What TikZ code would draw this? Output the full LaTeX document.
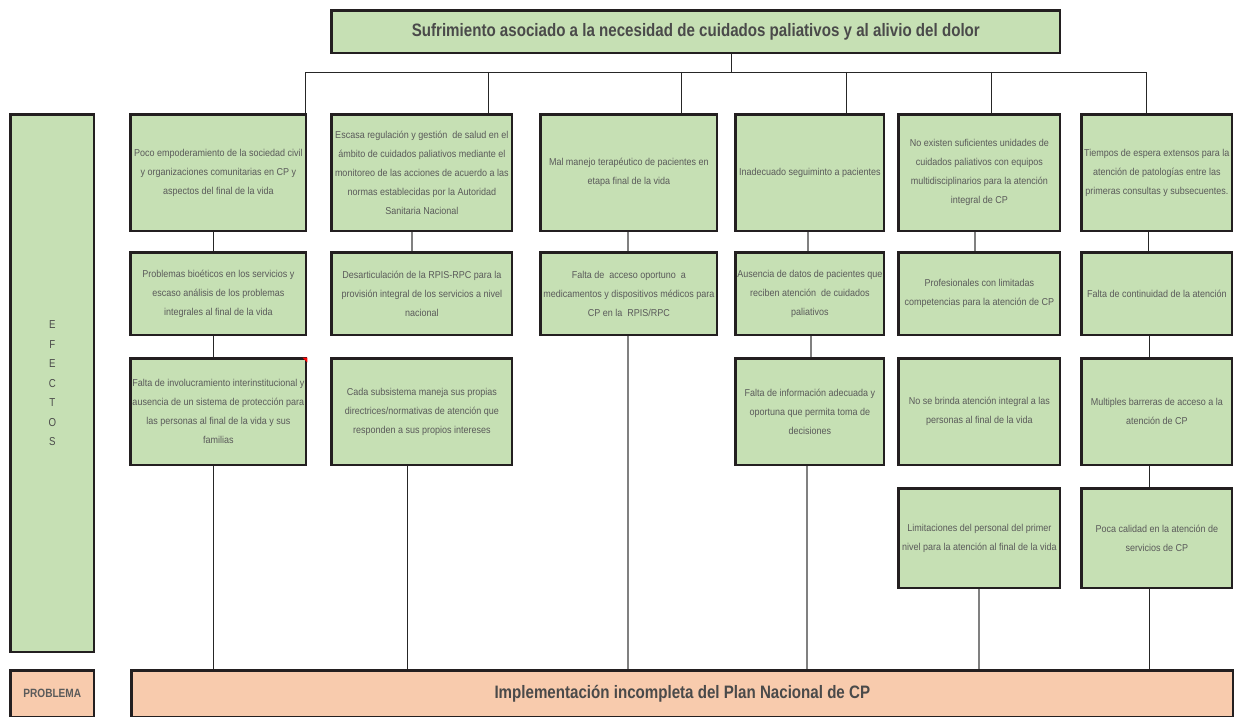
\documentclass[tikz,border=0pt]{standalone}
\usepackage{fontspec}
\setmainfont{Liberation Sans}
\newfontfamily\bodyfont{Liberation Sans}[FakeStretch=0.9]
\newfontfamily\headfont{Liberation Sans}[FakeStretch=0.84]
\definecolor{boxgreen}{HTML}{C6E0B4}
\definecolor{boxpeach}{HTML}{F8CBAD}
\definecolor{txtgray}{HTML}{5A5A5A}
\definecolor{headgray}{HTML}{4A4A4A}
\definecolor{edgecol}{HTML}{231F20}
\newcommand\cell[6]{\node[box, minimum width={#4-#2-2.6}, minimum height={#5-#3-2.6}] (#1) at (#2+1.3,#3+1.3) {#6};}
\begin{document}
\begin{tikzpicture}[x=1pt,y=-1pt,
  box/.style={draw=edgecol,line width=2.6pt,fill=boxgreen,align=center,text=txtgray,
    font=\bodyfont\fontsize{10}{19}\selectfont,inner sep=1pt,anchor=north west},
  headtext/.style={font=\headfont\bfseries\fontsize{18}{20}\selectfont,text=headgray},
  conn/.style={draw=black!85,line width=0.8pt},
  gconn/.style={draw=black!50,line width=1.1pt}]
\useasboundingbox (0,0) rectangle (1237,717);

% title
\cell{top}{329}{8}{1060}{53}{}
\node[headtext] (toptext) at (top.center) {Sufrimiento asociado a la necesidad de cuidados paliativos y al alivio del dolor};

% side labels
\node[box, minimum width=83.4, minimum height=537.4, font=\headfont\fontsize{11.5}{19.5}\selectfont, text=headgray] (ef) at (9.3,113.3) {E\\F\\E\\C\\T\\O\\S};
\node[box, fill=boxpeach, minimum width=83.4, minimum height=46.4, font=\headfont\bfseries\fontsize{12}{13}\selectfont] (pl) at (9.3,669.3) {PROBLEMA};
\node[box, fill=boxpeach, minimum width=1101.4, minimum height=46.4] (prob) at (130.3,669.3) {};
\node[headtext] (probtext) at (prob.center) {Implementación incompleta del Plan Nacional de CP};

% row 1
\cell{c1r1}{128}{112}{306}{231}{Poco empoderamiento de la sociedad civil\\y organizaciones comunitarias en CP y\\aspectos del final de la vida}
\cell{c2r1}{329}{112}{512}{231}{Escasa regulación y gestión\ \ de salud en el\\ámbito de cuidados paliativos mediante el\\monitoreo de las acciones de acuerdo a las\\normas establecidas por la Autoridad\\Sanitaria Nacional}
\cell{c3r1}{538}{112}{717}{231}{Mal manejo terapéutico de pacientes en\\etapa final de la vida}
\cell{c4r1}{733}{112}{884}{231}{Inadecuado seguiminto a pacientes}
\cell{c5r1}{896}{112}{1060}{231}{No existen suficientes unidades de\\cuidados paliativos con equipos\\multidisciplinarios para la atención\\integral de CP}
\cell{c6r1}{1079}{112}{1232}{231}{Tiempos de espera extensos para la\\atención de patologías entre las\\primeras consultas y subsecuentes.}

% row 2
\cell{c1r2}{128}{250}{306}{335}{Problemas bioéticos en los servicios y\\escaso análisis de los problemas\\integrales al final de la vida}
\cell{c2r2}{329}{250}{512}{335}{Desarticulación de la RPIS-RPC para la\\provisión integral de los servicios a nivel\\nacional}
\cell{c3r2}{538}{250}{717}{335}{Falta de\ \ acceso oportuno\ \ a\\medicamentos y dispositivos médicos para\\CP en la\ \ RPIS/RPC}
\cell{c4r2}{733}{250}{884}{335}{Ausencia de datos de pacientes que\\reciben atención\ \ de cuidados\\paliativos}
\cell{c5r2}{896}{250}{1060}{335}{Profesionales con limitadas\\competencias para la atención de CP}
\cell{c6r2}{1079}{250}{1232}{335}{Falta de continuidad de la atención}

% row 3
\cell{c1r3}{128}{356}{306}{465}{Falta de involucramiento interinstitucional y\\ausencia de un sistema de protección para\\las personas al final de la vida y sus\\familias}
\cell{c2r3}{329}{356}{512}{465}{Cada subsistema maneja sus propias\\directrices/normativas de atención que\\responden a sus propios intereses}
\cell{c4r3}{733}{356}{884}{465}{Falta de información adecuada y\\oportuna que permita toma de\\decisiones}
\cell{c5r3}{896}{356}{1060}{465}{No se brinda atención integral a las\\personas al final de la vida}
\cell{c6r3}{1079}{356}{1232}{465}{Multiples barreras de acceso a la\\atención de CP}

% row 4
\cell{c5r4}{896}{486}{1060}{588}{Limitaciones del personal del primer\\nivel para la atención al final de la vida}
\cell{c6r4}{1079}{486}{1232}{588}{Poca calidad en la atención de\\servicios de CP}

% comment marker
\fill[red] ([xshift=-5,yshift=-0.2]c1r3.north east) -- ([yshift=-0.2]c1r3.north east) -- ([yshift=-5]c1r3.north east) -- cycle;

% top tree
\coordinate (hub) at (731,72);
\coordinate (busL) at (305,72);
\coordinate (busR) at (1146,72);
\draw[conn] (hub |- top.south) -- (hub);
\draw[conn] (busL |- c1r1.north) -- (busL) -- (busR) -- (busR |- c6r1.north);
\foreach \n/\x in {c2r1/488, c3r1/681, c4r1/846, c5r1/991} {
  \coordinate (drop) at (\x,72);
  \draw[conn] (drop) -- (drop |- \n.north);
}

% column connectors
\foreach \x/\a/\b/\s in {213/c1r1/c1r2/conn, 213/c1r2/c1r3/conn, 213/c1r3/prob/conn,
  412/c2r1/c2r2/gconn, 407/c2r3/prob/conn,
  628/c3r1/c3r2/gconn, 628/c3r2/prob/gconn,
  808/c4r1/c4r2/gconn, 811/c4r2/c4r3/gconn, 807/c4r3/prob/gconn,
  975/c5r1/c5r2/gconn, 979/c5r4/prob/gconn,
  1148/c6r1/c6r2/conn, 1149/c6r2/c6r3/conn, 1149/c6r3/c6r4/conn, 1149/c6r4/prob/conn} {
  \coordinate (k) at (\x,0);
  \draw[\s] (k |- \a.south) -- (k |- \b.north);
}
\end{tikzpicture}
\end{document}
